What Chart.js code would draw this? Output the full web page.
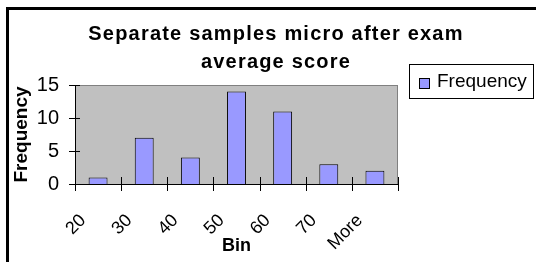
<!DOCTYPE html>
<html>
<head>
<meta charset="utf-8">
<script src="https://cdn.jsdelivr.net/npm/chart.js@4"></script>
<style>
  body { margin: 0; background: #fff; }
  canvas { display: block; }
</style>
</head>
<body>
<canvas id="histChart" width="536" height="262"></canvas>
<script>
// histogram bins and counts
const bins = ['20', '30', '40', '50', '60', '70', 'More'];
const frequency = [1, 7, 4, 14, 11, 3, 2];
const yTicks = [0, 5, 10, 15];
const titleLines = ['Separate samples micro after exam', 'average score'];
const seriesName = 'Frequency';

Chart.defaults.font.family = '"Liberation Sans", Arial, sans-serif';
Chart.defaults.color = '#000';

// grey plot area, frame, crossing tick marks, title and boxed legend
const excelLook = {
    id: 'excelLook',
    beforeDraw(chart) {
        const {ctx, chartArea: a} = chart;
        ctx.save();
        ctx.fillStyle = '#c0c0c0';
        ctx.fillRect(a.left, a.top, a.right - a.left, a.bottom - a.top);
        ctx.strokeStyle = '#808080';
        ctx.lineWidth = 1;
        ctx.strokeRect(a.left + 0.5, a.top + 0.5, a.right - a.left - 1, a.bottom - a.top);
        // outer chart frame
        ctx.fillStyle = '#000';
        ctx.fillRect(6, 7, 3, chart.height);
        ctx.fillRect(6, 7, chart.width, 3);
        ctx.restore();
    },
    afterDatasetsDraw(chart) {
        const {ctx, chartArea: a, scales} = chart;
        ctx.save();
        ctx.strokeStyle = '#000';
        ctx.lineWidth = 1;
        ctx.beginPath();
        // axis lines
        ctx.moveTo(a.left + 0.5, a.top);
        ctx.lineTo(a.left + 0.5, a.bottom);
        ctx.moveTo(a.left - 6, Math.round(a.bottom) + 0.5);
        ctx.lineTo(a.right, Math.round(a.bottom) + 0.5);
        // y ticks
        scales.y.ticks.forEach(t => {
            const y = Math.round(scales.y.getPixelForValue(t.value)) + 0.5;
            ctx.moveTo(a.left - 6, y);
            ctx.lineTo(a.left + 5, y);
        });
        // x ticks between categories
        const n = bins.length;
        const step = (scales.x.right - scales.x.left) / n;
        for (let i = 0; i <= n; i++) {
            const x = Math.round(scales.x.left + i * step) + 0.5;
            ctx.moveTo(x, a.bottom - 7);
            ctx.lineTo(x, a.bottom + 7);
        }
        ctx.stroke();
        ctx.restore();
    },
    afterDraw(chart) {
        const {ctx} = chart;
        ctx.save();
        // title
        ctx.fillStyle = '#000';
        ctx.font = 'bold 20px "Liberation Sans", Arial, sans-serif';
        ctx.textAlign = 'center';
        ctx.textBaseline = 'alphabetic';
        if ('letterSpacing' in ctx) ctx.letterSpacing = '1.2px';
        ctx.fillText(titleLines[0], 276, 40);
        ctx.fillText(titleLines[1], 276, 68);
        if ('letterSpacing' in ctx) ctx.letterSpacing = '0px';
        // legend
        const ds = chart.data.datasets[0];
        ctx.strokeStyle = '#000';
        ctx.lineWidth = 1;
        ctx.strokeRect(409.5, 64.5, 124, 34);
        ctx.fillStyle = ds.backgroundColor;
        ctx.fillRect(419.5, 78.5, 10, 10);
        ctx.strokeRect(419.5, 78.5, 10, 10);
        ctx.fillStyle = '#000';
        ctx.font = '19px "Liberation Sans", Arial, sans-serif';
        ctx.textAlign = 'left';
        ctx.textBaseline = 'middle';
        ctx.fillText(ds.label, 437, 82);
        ctx.restore();
    }
};

new Chart(document.getElementById('histChart'), {
    type: 'bar',
    data: {
        labels: bins,
        datasets: [{
            label: seriesName,
            data: frequency,
            backgroundColor: '#9999ff',
            borderColor: '#000',
            borderWidth: 1,
            categoryPercentage: 1,
            barPercentage: 0.41
        }]
    },
    options: {
        responsive: false,
        animation: false,
        layout: {
            padding: {top: 85, left: 0, right: 138, bottom: 0}
        },
        plugins: {
            legend: {display: false},
            title: {display: false},
            tooltip: {enabled: false}
        },
        scales: {
            x: {
                grid: {display: false, drawTicks: false},
                border: {display: false},
                ticks: {
                    font: {size: 18},
                    minRotation: 45,
                    maxRotation: 45,
                    autoSkip: false,
                    labelOffset: -15,
                    padding: 26
                },
                title: {
                    display: true,
                    text: 'Bin',
                    font: {size: 18, weight: 'bold'},
                    padding: {top: 0, bottom: 5}
                },
                afterFit: s => { s.height = 78; }
            },
            y: {
                min: 0,
                max: 15,
                afterBuildTicks: s => { s.ticks = yTicks.map(v => ({value: v})); },
                grid: {display: false, drawTicks: false},
                border: {display: false},
                ticks: {
                    font: {size: 20},
                    padding: 16
                },
                title: {
                    display: true,
                    text: 'Frequency',
                    font: {size: 19, weight: 'bold'},
                    padding: {top: 10.5, bottom: 0}
                },
                afterFit: s => { s.width = 75; }
            }
        }
    },
    plugins: [excelLook]
});
</script>
</body>
</html>
